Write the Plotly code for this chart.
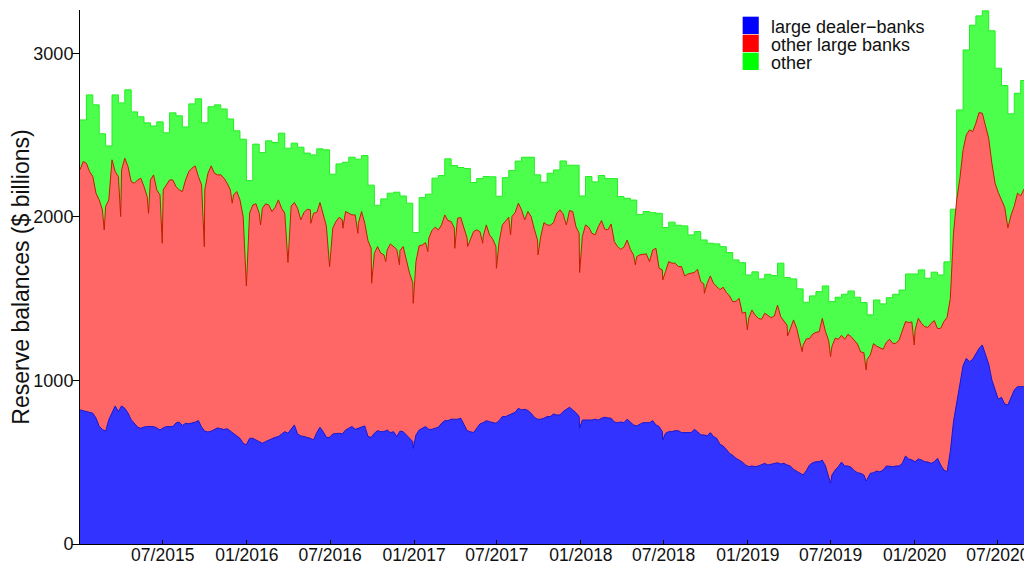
import pandas as pd
import plotly.graph_objects as go

start = "2015-01-01"

# large dealer-banks reserves, weekly readings ($ billions)
dealer_banks = [
    820, 815, 810, 805, 800, 770, 720, 700, 690, 760,
    807, 844, 810, 844, 830, 801, 760, 740, 715, 707,
    715, 718, 718, 718, 710, 697, 710, 718, 718, 718,
    740, 745, 725, 738, 735, 738, 745, 755, 715, 690,
    685, 690, 700, 710, 705, 700, 705, 690, 677, 665,
    646, 616, 606, 646, 646, 636, 626, 616, 626, 636,
    646, 652, 657, 673, 687, 677, 701, 728, 673, 661,
    657, 652, 646, 636, 681, 714, 687, 652, 652, 673,
    677, 677, 673, 697, 708, 718, 701, 708, 718, 722,
    657, 652, 677, 693, 687, 687, 697, 681, 687, 657,
    690, 687, 667, 646, 626, 667, 697, 708, 718, 701,
    701, 708, 714, 738, 754, 754, 763, 763, 763, 769,
    728, 693, 687, 681, 708, 734, 742, 754, 748, 742,
    738, 754, 779, 779, 787, 795, 805, 830, 820, 824,
    816, 799, 775, 763, 763, 769, 779, 779, 795, 789,
    789, 810, 824, 836, 820, 803, 779, 758, 758, 754,
    758, 763, 758, 769, 775, 771, 769, 746, 742, 746,
    742, 763, 748, 728, 722, 734, 742, 742, 742, 754,
    728, 718, 687, 677, 687, 687, 693, 693, 681, 681,
    685, 681, 701, 687, 667, 667, 661, 681, 657, 646,
    610, 599, 579, 554, 542, 524, 513, 501, 483, 473,
    477, 473, 477, 483, 493, 483, 489, 493, 497, 489,
    493, 483, 477, 456, 444, 432, 422, 448, 483, 497,
    503, 503, 513, 477, 412, 422, 452, 473, 501, 477,
    477, 469, 448, 436, 432, 422, 395, 432, 436, 446,
    441, 452, 477, 473, 473, 477, 477, 493, 538, 520,
    514, 503, 520, 514, 503, 501, 493, 503, 524, 483,
    452, 442, 565, 748, 870, 993, 1091, 1135, 1115, 1129,
    1160, 1196, 1217, 1156, 1101, 1003, 948, 885, 897, 856,
    850, 895, 942, 962, 962, 962, 938,
]

# all large banks (dealer-banks + other large banks), weekly readings
all_large_banks = [
    2288, 2339, 2328, 2277, 2247, 2145, 2104, 2043, 2063, 2104,
    2349, 2277, 2247, 2288, 2359, 2308, 2216, 2206, 2226, 2237,
    2186, 2124, 2226, 2257, 2165, 2135, 2165, 2196, 2226, 2226,
    2186, 2165, 2155, 2226, 2277, 2298, 2312, 2247, 2196, 2165,
    2267, 2312, 2267, 2257, 2257, 2237, 2206, 2165, 2135, 2155,
    2104,
    2002, 1961, 2023, 2073, 2080, 2023, 2053, 2080, 2073, 2033,
    2059, 2104, 2053, 2023, 2002, 2067, 2088, 2053, 1982, 2027,
    2047, 2043, 2023, 2027, 2088, 2023, 1945, 1859, 1931, 1972,
    1998, 1982, 2033, 2023, 2012, 2012, 1961, 2033, 1961, 1855,
    1808, 1778, 1819, 1778, 1768, 1798, 1835, 1819, 1802,
    1795,
    1819, 1737, 1656, 1599, 1727, 1823, 1829, 1843, 1870, 1917,
    1937, 1921, 1951, 2012, 1978, 1972, 1931, 1992, 1996, 1931,
    1870, 1864, 1910, 1921, 1910, 1880, 1951, 1890, 1864, 1819,
    1849, 1951, 1972, 1998, 2002, 2027, 2084, 2043, 2002, 2033,
    2002, 1925, 1859, 1880, 1965, 1951, 1949, 1965, 2023, 2043,
    2018, 1951, 2039, 2033, 1941, 1900, 1880, 1951, 1937, 1900,
    1890, 1941, 1978, 1925, 1921, 1957, 1849, 1819, 1802, 1815,
    1859, 1802, 1768, 1757, 1768, 1770, 1774, 1727, 1798, 1808,
    1686, 1676, 1666, 1727, 1717, 1717, 1696, 1696, 1639, 1651,
    1656, 1660, 1680, 1605, 1590, 1594, 1639, 1594, 1574, 1555,
    1570, 1539, 1517, 1482, 1484, 1502, 1411, 1417, 1380, 1431,
    1400, 1380, 1374, 1411, 1400, 1384, 1394, 1461, 1390, 1366,
    1337, 1319, 1370, 1319, 1231, 1217, 1254, 1256, 1284, 1294,
    1298, 1380, 1298, 1243, 1207, 1258, 1252, 1276, 1252, 1282,
    1268, 1243, 1223, 1174, 1170, 1129, 1156, 1225, 1210, 1200,
    1190, 1233, 1252, 1227, 1227, 1247, 1309, 1360, 1354, 1358,
    1309, 1380, 1349, 1329, 1325, 1349, 1366, 1317, 1319, 1360,
    1386, 1500, 1900, 2104, 2236, 2410, 2501, 2532, 2522, 2573,
    2638, 2634, 2552, 2481, 2328, 2206, 2149, 2100, 2059, 1933,
    2012, 2067, 2145, 2128, 2169, 2108,
]

# total reserves of all banks, two-week maintenance periods
all_reserves = [
    2593, 2746, 2685, 2508, 2434, 2746, 2697, 2777, 2642, 2612,
    2575, 2556, 2581, 2514, 2636, 2618, 2550, 2691, 2722, 2575,
    2673, 2685, 2660, 2599, 2526,
    2475, 2222, 2445, 2393, 2465, 2455, 2512, 2420, 2451, 2426,
    2390, 2379, 2416, 2410, 2261, 2324, 2334, 2365, 2353, 2375,
    2194, 2071, 2110, 2145, 2151,
    2128, 2084, 1904, 2118, 2139, 2237, 2253, 2355, 2314, 2302,
    2296, 2210, 2234, 2247, 2245, 2126, 2240, 2283, 2341, 2365,
    2365, 2257, 2212, 2267, 2287,
    2342, 2316, 2316, 2128, 2247, 2214, 2253, 2234, 2234, 2124,
    2114, 2103, 2014, 2033, 2026, 2022, 1935, 1968, 1949, 1945,
    1890, 1910, 1859, 1839, 1835,
    1818, 1782, 1737, 1720, 1645, 1664, 1621, 1649, 1641, 1717,
    1629, 1621, 1560, 1478, 1517, 1543, 1578, 1482, 1509, 1527,
    1547, 1509, 1476, 1401, 1492,
    1468, 1506, 1527, 1553, 1651, 1651, 1676, 1625, 1662, 1645,
    1725, 2047, 2654, 3021, 3172, 3229, 3260, 3138, 2909, 2803,
    2630, 2756, 2834, 2862,
]

# month/quarter-end dips of the large-bank total
large_dip_dates = [
    "2015-02-23", "2015-03-31", "2015-05-31", "2015-06-30", "2015-09-30",
    "2015-11-30", "2015-12-31", "2016-01-31", "2016-03-31", "2016-05-20",
    "2016-06-30", "2016-07-29", "2016-08-31", "2016-09-30", "2016-10-31",
    "2016-11-30", "2016-12-30", "2017-01-31", "2017-03-31", "2017-04-28",
    "2017-05-31", "2017-06-30", "2017-07-31", "2017-08-31", "2017-09-29",
    "2017-12-29", "2018-04-30", "2018-06-29", "2018-09-28", "2018-12-31",
    "2019-03-29", "2019-04-30", "2019-07-01", "2019-09-17", "2019-12-31",
]
large_dip_values = [
    1920, 2002, 2022, 1839, 1818,
    2084, 1578, 1951, 1721, 1961,
    1696, 1931, 1900, 1594, 1727,
    1707, 1472, 1788, 1808, 1819,
    1839, 1686, 1890, 1982, 1768,
    1660, 1707, 1615, 1533, 1309,
    1272, 1176, 1146, 1064, 1217,
]
dealer_dip_dates = ["2016-12-30", "2017-12-29", "2018-06-29", "2019-07-01", "2019-09-17"]
dealer_dip_values = [585, 708, 636, 371, 385]

tick_dates = pd.date_range("2015-07-01", "2020-07-01", freq="6MS")
legend_labels = ["large dealer\u2212banks", "other large banks", "other"]
legend_colors = ["#0000FF", "#FF0000", "#00FF00"]
end_date = "2020-09-05"


def merge(dates, values, extra_dates, extra_values):
    s = pd.Series(values, index=dates, dtype=float)
    e = pd.Series(extra_values, index=pd.to_datetime(extra_dates), dtype=float)
    s = pd.concat([s[~s.index.isin(e.index)], e]).sort_index()
    return s.index, s.values


weekly = pd.date_range(start, periods=len(dealer_banks), freq="7D")
weekly_l = pd.date_range(start, periods=len(all_large_banks), freq="7D")
periods = pd.date_range(start, periods=len(all_reserves), freq="14D")

lx, ly = merge(weekly_l, all_large_banks, large_dip_dates, large_dip_values)
dx, dy = merge(weekly, dealer_banks, dealer_dip_dates, dealer_dip_values)

FONT = "Liberation Sans, Arial, sans-serif"

fig = go.Figure()
fig.add_trace(go.Scatter(
    x=periods, y=all_reserves, mode="lines", name=legend_labels[2],
    line=dict(shape="hv", color="#22EE22", width=1),
    fill="tozeroy", fillcolor="#4DFF4D", showlegend=False, hoverinfo="skip"))
fig.add_trace(go.Scatter(
    x=lx, y=ly, mode="lines", name=legend_labels[1],
    line=dict(color="#C02000", width=1),
    fill="tozeroy", fillcolor="#FF6666", showlegend=False, hoverinfo="skip"))
fig.add_trace(go.Scatter(
    x=dx, y=dy, mode="lines", name=legend_labels[0],
    line=dict(color="#1818D0", width=1),
    fill="tozeroy", fillcolor="#3333FF", showlegend=False, hoverinfo="skip"))

# manual legend (tight boxes as in the reference)
box_x0, box_x1 = 0.699, 0.716
box_top, box_h, row_h = 0.9875, 0.0325, 0.0337
for i, (lab, col) in enumerate(zip(legend_labels, legend_colors)):
    y1 = box_top - i * row_h
    fig.add_shape(type="rect", xref="paper", yref="paper",
                  x0=box_x0, x1=box_x1, y0=y1 - box_h, y1=y1,
                  fillcolor=col, line=dict(width=0), layer="above")
    fig.add_annotation(xref="paper", yref="paper", x=0.7265, y=y1 - box_h / 2 - 0.003,
                       text=lab, showarrow=False, xanchor="left", yanchor="middle",
                       font=dict(family=FONT, size=18, color="#111111"))

# the page adds an 8 px body margin; the figure is sized to fit the window
fig.update_layout(
    width=1024, height=556,
    margin=dict(l=72, r=4, t=2, b=20),
    paper_bgcolor="white", plot_bgcolor="white",
    showlegend=False,
    font=dict(family=FONT, size=18, color="#111111"),
    xaxis=dict(
        type="date", range=[start, end_date],
        showgrid=False, zeroline=False,
        showline=True, linecolor="black", linewidth=1,
        ticks="inside", ticklen=4, tickcolor="black",
        tickvals=tick_dates, tickformat="%m/%Y",
        ticklabelstandoff=-5,
        tickfont=dict(family=FONT, size=17.5, color="#111111"),
        automargin=False,
    ),
    yaxis=dict(
        range=[0, 3265], tickvals=[0, 1000, 2000, 3000],
        showgrid=False, zeroline=False,
        showline=True, linecolor="black", linewidth=1,
        ticks="outside", ticklen=7, tickcolor="black",
        ticklabelstandoff=-5,
        tickfont=dict(family=FONT, size=18, color="#111111"),
        title=dict(text="Reserve balances ($ billions)", standoff=4,
                   font=dict(family=FONT, size=23, color="#111111")),
        automargin=False,
    ),
)

fig.write_html("out.html")
